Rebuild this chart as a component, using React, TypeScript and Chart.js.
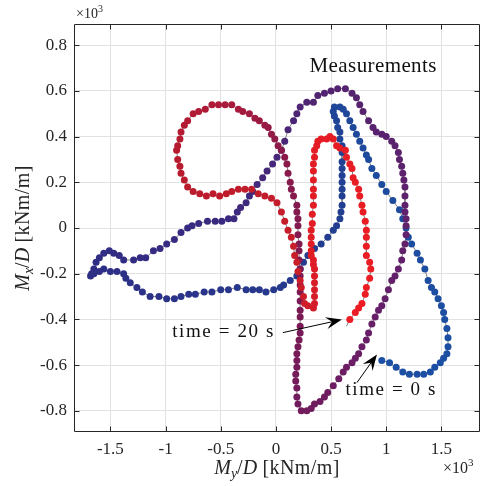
import React, { useEffect, useRef } from "react";
import { Chart, registerables } from "chart.js";

Chart.register(...registerables);

// Bending moment trajectory (×10^3 kNm/m), sampled in time from t = 0 s to t = 20 s
const myOverD: number[] = [
  0.96, 1.03, 1.09, 1.15, 1.21, 1.28, 1.34, 1.40, 1.44, 1.49, 1.52, 1.55, 1.56, 1.56,
  1.55, 1.53, 1.52, 1.50, 1.47, 1.44, 1.41, 1.38, 1.35, 1.31, 1.28, 1.23, 1.20, 1.18, 1.15, 1.12,
  1.06, 1.00, 0.96, 0.91, 0.87, 0.84, 0.82, 0.79, 0.76, 0.73, 0.70, 0.67, 0.64, 0.61, 0.58, 0.53,
  0.52, 0.53, 0.55, 0.56, 0.58, 0.58, 0.60, 0.60, 0.60, 0.60, 0.60, 0.60, 0.60, 0.60, 0.60, 0.59,
  0.58, 0.55, 0.52, 0.47, 0.41, 0.35, 0.29, 0.25, 0.22, 0.19, 0.13, 0.07,
  0.04, -0.02, -0.09, -0.15, -0.21, -0.27, -0.35, -0.43, -0.50, -0.58, -0.65, -0.73, -0.79, -0.86,
  -0.92, -0.99, -1.06, -1.14, -1.21, -1.26, -1.32, -1.36, -1.38, -1.44, -1.50, -1.56, -1.60, -1.65,
  -1.68, -1.67, -1.65, -1.63, -1.60, -1.56, -1.51, -1.47, -1.42, -1.38, -1.29, -1.23, -1.18, -1.11,
  -1.05, -0.99, -0.92, -0.86, -0.80, -0.76, -0.70, -0.62, -0.55, -0.49, -0.43, -0.38, -0.35, -0.32,
  -0.27, -0.24, -0.21, -0.17, -0.12, -0.08,
  -0.03, 0.01, 0.05, 0.08, 0.11, 0.16, 0.19, 0.22, 0.28, 0.34, 0.38, 0.44, 0.50, 0.56, 0.63, 0.69,
  0.73, 0.76, 0.79, 0.84, 0.88, 0.91, 0.96, 1.00, 1.05, 1.08, 1.11, 1.12, 1.14, 1.15, 1.16, 1.17,
  1.17, 1.17, 1.17, 1.18, 1.18, 1.18, 1.17, 1.15, 1.14, 1.11, 1.08, 1.05, 1.02, 0.99, 0.96, 0.93,
  0.90, 0.87, 0.84, 0.82, 0.78, 0.75, 0.72, 0.69, 0.64, 0.61, 0.57, 0.52, 0.47, 0.44, 0.40, 0.35,
  0.32, 0.28, 0.23, 0.20, 0.19, 0.19, 0.18, 0.18, 0.19, 0.19, 0.19, 0.20, 0.21, 0.22, 0.22, 0.22,
  0.22, 0.22, 0.22, 0.22, 0.22, 0.22, 0.21, 0.21, 0.21, 0.20, 0.20, 0.20, 0.19, 0.19, 0.16, 0.14,
  0.13, 0.11, 0.10, 0.08, 0.05, 0.02, -0.01, -0.04, -0.07, -0.10, -0.15, -0.19, -0.24, -0.30, -0.34,
  -0.40, -0.46, -0.52, -0.58, -0.64, -0.70, -0.75, -0.80, -0.83, -0.86, -0.87, -0.89, -0.90, -0.89,
  -0.87, -0.86, -0.83, -0.80, -0.75, -0.69, -0.63, -0.57, -0.51, -0.45, -0.40, -0.34, -0.28, -0.22,
  -0.16, -0.10, -0.04, 0.01, 0.05, 0.08, 0.11, 0.14, 0.16, 0.17, 0.19, 0.20, 0.22, 0.23, 0.25, 0.26,
  0.29, 0.34, 0.35, 0.35, 0.35, 0.35, 0.35, 0.35, 0.34, 0.34, 0.32, 0.32, 0.32, 0.32, 0.32, 0.33,
  0.33, 0.34, 0.34, 0.34, 0.34, 0.34, 0.34, 0.35, 0.35, 0.37, 0.38, 0.41, 0.46, 0.49, 0.52, 0.55,
  0.58, 0.63, 0.64, 0.67, 0.69, 0.70, 0.72, 0.75, 0.76, 0.78, 0.79, 0.81, 0.82, 0.82, 0.82, 0.82,
  0.85, 0.86, 0.85, 0.82, 0.81, 0.78, 0.75, 0.72, 0.67, 0.64,
];

const mxOverD: number[] = [
  -0.58, -0.59, -0.61, -0.63, -0.64, -0.64, -0.64, -0.63, -0.61, -0.59, -0.57, -0.55, -0.52, -0.48,
  -0.44, -0.40, -0.37, -0.34, -0.31, -0.28, -0.26, -0.23, -0.18, -0.14, -0.11, -0.07, -0.04, 0.00, 0.04, 0.08,
  0.12, 0.16, 0.19, 0.23, 0.26, 0.30, 0.32, 0.35, 0.38, 0.41, 0.44, 0.47, 0.50, 0.52, 0.53, 0.53,
  0.51, 0.49, 0.47, 0.44, 0.42, 0.39, 0.36, 0.33, 0.29, 0.26, 0.23, 0.20, 0.17, 0.14, 0.10, 0.07,
  0.04, 0.01, -0.01, -0.04, -0.07, -0.09, -0.12, -0.15, -0.18, -0.21, -0.23, -0.25,
  -0.26, -0.27, -0.28, -0.27, -0.27, -0.27, -0.26, -0.27, -0.27, -0.28, -0.28, -0.29, -0.29, -0.30,
  -0.31, -0.31, -0.30, -0.30, -0.28, -0.26, -0.24, -0.22, -0.20, -0.19, -0.19, -0.18, -0.19, -0.20,
  -0.21, -0.20, -0.18, -0.15, -0.13, -0.11, -0.10, -0.11, -0.12, -0.14, -0.14, -0.13, -0.13, -0.10,
  -0.09, -0.07, -0.05, -0.02, 0.00, 0.01, 0.02, 0.03, 0.03, 0.03, 0.04, 0.04, 0.07, 0.09,
  0.11, 0.14, 0.16, 0.19, 0.22, 0.25,
  0.28, 0.31, 0.34, 0.38, 0.43, 0.47, 0.50, 0.53, 0.55, 0.55, 0.58, 0.59, 0.60, 0.61, 0.61, 0.59,
  0.57, 0.54, 0.51, 0.47, 0.44, 0.42, 0.41, 0.40, 0.38, 0.36, 0.33, 0.30, 0.27, 0.24, 0.21, 0.18,
  0.14, 0.10, 0.07, 0.04, 0.01, -0.03, -0.07, -0.10, -0.14, -0.18, -0.21, -0.23, -0.27, -0.31, -0.34, -0.36,
  -0.39, -0.42, -0.46, -0.49, -0.52, -0.55, -0.57, -0.59, -0.61, -0.63, -0.66, -0.69, -0.72, -0.74, -0.76, -0.77,
  -0.79, -0.80, -0.80, -0.77, -0.74, -0.70, -0.67, -0.64, -0.61, -0.58, -0.55, -0.52, -0.49, -0.46, -0.43, -0.39,
  -0.36, -0.32, -0.28, -0.25, -0.21, -0.18, -0.14, -0.10, -0.07, -0.03, 0.01, 0.04, 0.07, 0.10, 0.14, 0.17,
  0.20, 0.24, 0.28, 0.31, 0.34, 0.36, 0.39, 0.41, 0.44, 0.45, 0.47, 0.48, 0.50, 0.51, 0.52,
  0.54, 0.54, 0.54, 0.54, 0.52, 0.51, 0.50, 0.47, 0.45, 0.42, 0.39, 0.36, 0.34, 0.30,
  0.27, 0.24, 0.21, 0.18, 0.16, 0.15, 0.14, 0.15, 0.14, 0.15, 0.16, 0.17, 0.17, 0.17,
  0.15, 0.14, 0.13, 0.11, 0.07, 0.03, -0.01, -0.04, -0.08, -0.12, -0.15, -0.19, -0.23, -0.26, -0.30, -0.33,
  -0.34, -0.35, -0.33, -0.30, -0.27, -0.24, -0.21, -0.18, -0.16, -0.14, -0.12, -0.10, -0.07, -0.04, -0.01, 0.02,
  0.06, 0.10, 0.14, 0.17, 0.21, 0.25, 0.28, 0.31, 0.34, 0.36, 0.38, 0.39, 0.39, 0.40, 0.39, 0.36,
  0.35, 0.34, 0.31, 0.28, 0.26, 0.22, 0.20, 0.17, 0.14, 0.10, 0.07, 0.03, -0.01, -0.04, -0.08, -0.12,
  -0.15, -0.18, -0.22, -0.26, -0.29, -0.33, -0.35, -0.37, -0.40, -0.43,
];

const xTickValues: number[] = [-1.5, -1, -0.5, 0, 0.5, 1, 1.5];
const xTickLabels: string[] = ["-1.5", "-1", "-0.5", "0", "0.5", "1", "1.5"];
const yTickValues: number[] = [-0.8, -0.6, -0.4, -0.2, 0, 0.2, 0.4, 0.6, 0.8];
const yTickLabels: string[] = ["-0.8", "-0.6", "-0.4", "-0.2", "0", "0.2", "0.4", "0.6", "0.8"];

// time colour map: blue (start) -> navy -> purple -> maroon -> red (end)
const colorStops: [number, string][] = [
  [0.0, "#1c50a4"],
  [0.09, "#1d4c9f"],
  [0.17, "#213f92"],
  [0.29, "#2e2e85"],
  [0.36, "#3a2a80"],
  [0.43, "#55236f"],
  [0.52, "#65206a"],
  [0.62, "#7a1a55"],
  [0.68, "#8c1a4a"],
  [0.7, "#a01a40"],
  [0.72, "#af1b36"],
  [0.75, "#b81b2e"],
  [0.78, "#c01c2b"],
  [0.83, "#cc1e2a"],
  [0.86, "#df1c25"],
  [1.0, "#ee1c24"],
];

const SERIF = "'Liberation Serif', 'DejaVu Serif', serif";

function hexToRgb(h: string): number[] {
  const n = parseInt(h.slice(1), 16);
  return [(n >> 16) & 255, (n >> 8) & 255, n & 255];
}

function colorAt(t: number): string {
  for (let i = 1; i < colorStops.length; i++) {
    const [t1, c1] = colorStops[i];
    const [t0, c0] = colorStops[i - 1];
    if (t <= t1) {
      const f = (t - t0) / (t1 - t0 || 1);
      const a = hexToRgb(c0);
      const b = hexToRgb(c1);
      const c = a.map((v, k) => Math.round(v + (b[k] - v) * f));
      return `rgb(${c[0]},${c[1]},${c[2]})`;
    }
  }
  return colorStops[colorStops.length - 1][1];
}

type Run = { text: string; italic?: boolean; size: number; dy?: number; spacing?: number };

function setRunFont(ctx: CanvasRenderingContext2D, r: Run) {
  ctx.font = `${r.italic ? "italic " : ""}${r.size}px ${SERIF}`;
  (ctx as any).letterSpacing = `${r.spacing || 0}px`;
}

function runsWidth(ctx: CanvasRenderingContext2D, runs: Run[]): number {
  let w = 0;
  for (const r of runs) {
    setRunFont(ctx, r);
    w += ctx.measureText(r.text).width;
  }
  (ctx as any).letterSpacing = "0px";
  return w;
}

function drawRuns(ctx: CanvasRenderingContext2D, runs: Run[], x: number, y: number) {
  let cx = x;
  ctx.textBaseline = "alphabetic";
  ctx.textAlign = "left";
  for (const r of runs) {
    setRunFont(ctx, r);
    ctx.fillText(r.text, cx, y + (r.dy || 0));
    cx += ctx.measureText(r.text).width;
  }
  (ctx as any).letterSpacing = "0px";
}

function drawArrow(ctx: CanvasRenderingContext2D, x0: number, y0: number, x1: number, y1: number) {
  const ang = Math.atan2(y1 - y0, x1 - x0);
  const len = 16;
  const half = 6;
  const back = 10;
  ctx.beginPath();
  ctx.moveTo(x0, y0);
  ctx.lineTo(x1 - Math.cos(ang) * back, y1 - Math.sin(ang) * back);
  ctx.lineWidth = 1;
  ctx.strokeStyle = "#000";
  ctx.stroke();
  const bx = x1 - Math.cos(ang) * len;
  const by = y1 - Math.sin(ang) * len;
  const nx = -Math.sin(ang);
  const ny = Math.cos(ang);
  ctx.beginPath();
  ctx.moveTo(x1, y1);
  ctx.lineTo(bx + nx * half, by + ny * half);
  ctx.lineTo(x1 - Math.cos(ang) * back, y1 - Math.sin(ang) * back);
  ctx.lineTo(bx - nx * half, by - ny * half);
  ctx.closePath();
  ctx.fillStyle = "#000";
  ctx.fill();
}

const decorPlugin = {
  id: "decor",
  afterDraw(chart: any) {
    const { ctx, chartArea: a, scales } = chart;
    const xs = scales.x;
    const ys = scales.y;
    const px = (v: number) => xs.getPixelForValue(v);
    const py = (v: number) => ys.getPixelForValue(v);
    ctx.save();

    // box with inward ticks on all four sides
    ctx.strokeStyle = "#262626";
    ctx.lineWidth = 1;
    const L = Math.round(a.left) + 0.5;
    const R = Math.round(a.right) - 0.5;
    const T = Math.round(a.top) + 0.5;
    const B = Math.round(a.bottom) - 0.5;
    ctx.beginPath();
    ctx.rect(L, T, R - L, B - T);
    const tk = 5;
    for (const v of xTickValues) {
      const x = Math.round(px(v)) + 0.5;
      ctx.moveTo(x, B);
      ctx.lineTo(x, B - tk);
      ctx.moveTo(x, T);
      ctx.lineTo(x, T + tk);
    }
    for (const v of yTickValues) {
      const y = Math.round(py(v)) + 0.5;
      ctx.moveTo(L, y);
      ctx.lineTo(L + tk, y);
      ctx.moveTo(R, y);
      ctx.lineTo(R - tk, y);
    }
    ctx.stroke();

    ctx.fillStyle = "#262626";
    // exponent markers
    drawRuns(ctx, [{ text: "×10", size: 14 }, { text: "3", size: 10, dy: -6 }], a.left + 2, 18);
    drawRuns(ctx, [{ text: "×10", size: 16 }, { text: "3", size: 11, dy: -7 }], a.right - 37, 473);

    // axis titles
    const xTitle: Run[] = [
      { text: "M", italic: true, size: 20 },
      { text: "y", italic: true, size: 14, dy: 4 },
      { text: "/", size: 20 },
      { text: "D", italic: true, size: 20 },
      { text: " [kNm/m]", size: 20, spacing: 0.4 },
    ];
    const xw = runsWidth(ctx, xTitle);
    drawRuns(ctx, xTitle, (a.left + a.right) / 2 - xw / 2, 474);

    const yTitle: Run[] = [
      { text: "M", italic: true, size: 20 },
      { text: "x", italic: true, size: 14, dy: 4 },
      { text: "/", size: 20 },
      { text: "D", italic: true, size: 20 },
      { text: " [kNm/m]", size: 20, spacing: 0.4 },
    ];
    const yw = runsWidth(ctx, yTitle);
    ctx.save();
    ctx.translate(29, (a.top + a.bottom) / 2);
    ctx.rotate(-Math.PI / 2);
    drawRuns(ctx, yTitle, -yw / 2, 0);
    ctx.restore();

    // annotations
    ctx.fillStyle = "#111";
    drawRuns(ctx, [{ text: "Measurements", size: 21, spacing: 0.4 }], px(0.305), py(0.684));
    drawRuns(ctx, [{ text: "time = 20 s", size: 19, spacing: 1.6 }], px(-0.94), py(-0.476));
    drawRuns(ctx, [{ text: "time = 0 s", size: 19, spacing: 1.6 }], px(0.63), py(-0.73));
    drawArrow(ctx, px(0.063), py(-0.458), px(0.598), py(-0.401));
    drawArrow(ctx, px(0.734), py(-0.677), px(0.916), py(-0.554));

    ctx.restore();
  },
};

export default function App() {
  const canvasRef = useRef<HTMLCanvasElement | null>(null);

  useEffect(() => {
    const canvas = canvasRef.current;
    if (!canvas) return;
    const n = myOverD.length;
    const points = myOverD.map((x, i) => ({ x, y: mxOverD[i] }));
    const colors = points.map((_, i) => colorAt(i / (n - 1)));
    // the trace runs a little past the final marker
    const radii = points.map((_, i) => (i === n - 1 ? 0 : 3.5));

    const tickFont = { family: SERIF, size: 17 };
    const chart = new Chart(canvas, {
      type: "scatter",
      data: {
        datasets: [
          {
            data: points,
            showLine: true,
            borderColor: "#808080",
            borderWidth: 1,
            pointRadius: radii,
            pointBackgroundColor: colors,
            pointBorderWidth: 0,
            pointHoverRadius: radii,
          },
        ],
      },
      options: {
        responsive: false,
        animation: false,
        events: [],
        layout: { padding: { top: 24, right: 5, left: 0, bottom: 0 } },
        plugins: { legend: { display: false }, tooltip: { enabled: false } },
        scales: {
          x: {
            type: "linear",
            min: -1.83,
            max: 1.85,
            afterBuildTicks: (s: any) => {
              s.ticks = xTickValues.map((value) => ({ value }));
            },
            afterFit: (s: any) => {
              s.height = 54;
            },
            ticks: {
              callback: (v: any) => xTickLabels[xTickValues.indexOf(Number(v))] ?? "",
              font: tickFont,
              color: "#262626",
              padding: 7,
              maxRotation: 0,
              autoSkip: false,
            },
            grid: { color: "#e2e2e2", lineWidth: 1, drawTicks: false },
            border: { display: false },
          },
          y: {
            type: "linear",
            min: -0.893,
            max: 0.893,
            afterBuildTicks: (s: any) => {
              s.ticks = yTickValues.map((value) => ({ value }));
            },
            afterFit: (s: any) => {
              s.width = 74;
            },
            ticks: {
              callback: (v: any) => yTickLabels[yTickValues.indexOf(Number(v))] ?? "",
              font: tickFont,
              color: "#262626",
              padding: 7,
              autoSkip: false,
            },
            grid: { color: "#e2e2e2", lineWidth: 1, drawTicks: false },
            border: { display: false },
          },
        },
      },
      plugins: [decorPlugin],
    });
    return () => chart.destroy();
  }, []);

  return (
    <div style={{ position: "absolute", left: 0, top: 0, width: 485, height: 486, background: "#fff" }}>
      <canvas ref={canvasRef} width={485} height={486} />
    </div>
  );
}
